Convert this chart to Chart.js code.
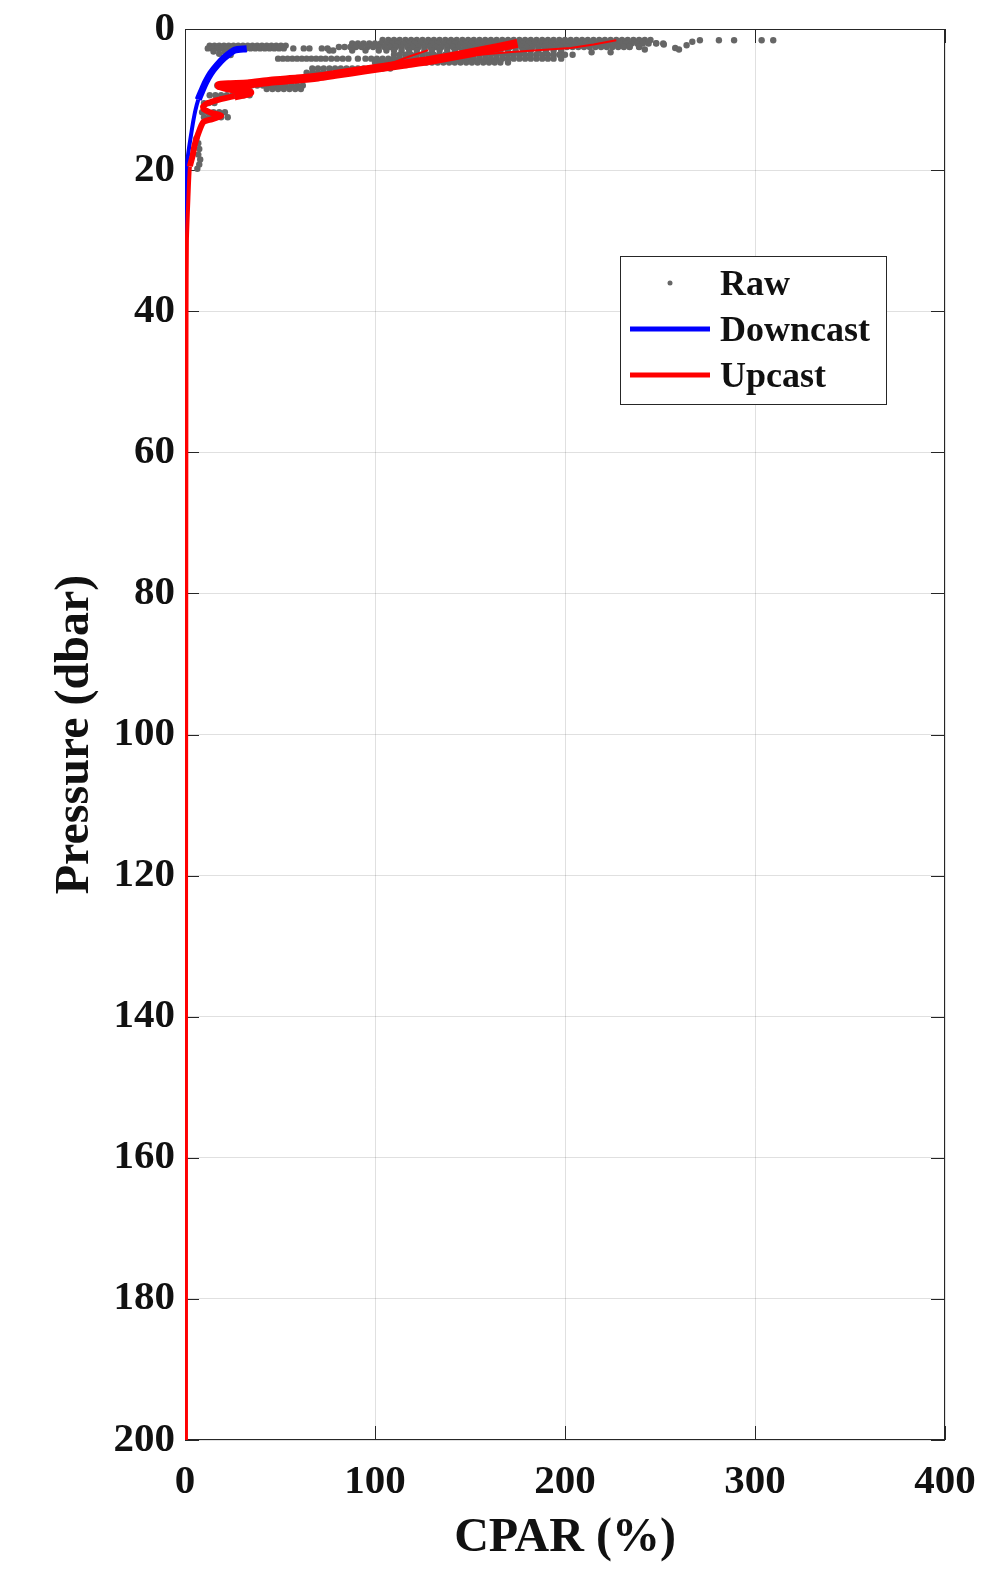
<!DOCTYPE html>
<html>
<head>
<meta charset="utf-8">
<script src="https://cdn.jsdelivr.net/npm/chart.js@4.4.0/dist/chart.umd.min.js"></script>
<style>
  html, body { margin: 0; padding: 0; background: #fff; }
</style>
</head>
<body>
<canvas id="cparChart" width="983" height="1579"></canvas>
<script>
// axis ticks
var xTicks = [0, 100, 200, 300, 400];
var yTicks = [0, 20, 40, 60, 80, 100, 120, 140, 160, 180, 200];

// downcast profile (CPAR %, pressure dbar)
var downCpar = [32.5, 26, 21, 17, 13.5, 11, 9, 7, 5.5, 4.4, 3.3, 2.2, 1.2, 0.8, 0.6, 0.45, 0.35, 0.3, 0.2, 0.15, 0.1];
var downPres = [2.8, 3.0, 4.0, 5.1, 6.3, 7.5, 8.7, 10, 11.5, 13, 14.8, 16.7, 18.7, 20.5, 23, 27, 35, 50, 100, 150, 200];

// upcast profile, from the bottom up to the surface
var upCpar = [0.5, 0.5, 0.6, 0.7, 0.8, 1.0, 1.8, 2.6, 4, 5, 7, 9.6, 14, 19, 14, 10, 9.5, 12, 18, 26, 34, 30, 22, 18, 24, 33, 45, 59, 70, 80, 95, 115, 130, 150, 165, 175];
var upPres = [200, 150, 100, 60, 40, 30, 24, 19.5, 18, 16.5, 14.8, 13.2, 12.8, 12.3, 11.9, 11.4, 11.0, 10.5, 10.0, 9.5, 9.0, 8.7, 8.3, 8.0, 7.9, 7.8, 7.4, 7.1, 6.8, 6.4, 5.8, 5.0, 4.4, 3.4, 2.6, 2.05];
// thin upcast strands near the surface
var upTailACpar = [108, 118, 128];
var upTailAPres = [4.9, 3.9, 3.0];
var upTailBCpar = [140, 170, 203, 215, 227];
var upTailBPres = [4.0, 3.3, 2.7, 2.2, 1.6];

// raw samples, grouped in rows of equal pressure
var rawRowA = [13, 15.5, 18, 20.5, 23, 25.5, 28, 30.5, 33, 35.5, 38, 40.5, 43, 45.5, 48, 50.5, 53];
var rawRowB = [12, 14.5, 17, 19.5, 22, 24.5, 27, 29.5, 32, 34.5, 37, 39.5, 42, 44.5, 47, 49.5, 52, 57, 62.5, 65.5, 72, 75];
var rawRowC = [104, 107, 110, 113, 116, 119, 122, 125, 128, 131, 134, 137, 140, 143, 146, 149, 152, 155, 158, 161, 164, 167, 170, 173, 176, 179, 182, 185, 188, 191, 194, 197, 200, 203, 206, 209, 212, 215, 218, 221, 224, 227, 230, 233, 236, 239, 242, 245];
var rawRowD = [88, 91, 94, 97, 100, 103, 106, 109, 112, 115, 118, 121, 124, 127, 130, 133, 136, 139, 142, 145, 148, 151, 154, 157, 160, 163, 166, 169, 172, 175, 178, 181, 184, 187, 190, 193, 196, 199, 202, 205, 208, 211, 214, 217, 220, 223, 226, 229, 232, 235, 238, 241, 244, 248, 251.7];
var rawRowE = [81, 84, 87, 90, 93, 96, 99, 102, 105, 108, 111, 114, 117, 120, 123, 126, 129, 132, 135, 138, 141, 144, 147, 150, 153, 156, 159, 162, 165, 168, 171, 174, 177, 180, 183, 186, 189, 192, 195, 198, 201, 204, 207, 210, 213, 216, 219, 222, 225, 228, 231, 234, 239];
var rawRowF = [76, 78, 88, 95, 102, 106, 110, 114, 118, 122, 126, 130, 134, 138, 142, 146, 150, 154, 158, 162, 166, 170, 174, 178, 182, 186, 190, 194, 198];
var rawRowG = [110, 113, 116, 119, 122, 125, 128, 131, 134, 137, 140, 143, 146, 149, 152, 155, 158, 161, 164, 167, 170, 173, 176, 179, 182, 185, 188, 191, 194, 197, 200, 204];
var rawRowH = [49, 51.5, 54, 56.5, 59, 61.5, 64, 66.5, 69, 71.5, 74, 77, 80, 83, 86, 91, 95, 98, 101, 104, 107, 110, 113, 116, 119, 122, 125, 128, 131, 134, 137, 140, 143, 146, 149, 152, 155, 158, 161, 164, 167, 170, 173, 176, 179, 182, 185, 188, 191, 194, 198];
var rawRowI = [100, 103, 106, 109, 112, 115, 118, 121, 124, 127, 130, 133, 136, 139, 142, 145, 148, 151, 154, 157, 160, 163, 166, 170];
var rawRowJ = [67, 70, 73, 76, 79, 82, 85, 88, 91, 94, 97, 100, 104, 108];
var rawRowK = [64, 67, 70, 73, 76, 79, 82, 85, 88];
var rawRowL = [17, 20, 23, 26, 29, 32, 35, 38, 41, 44, 47, 50, 53, 56, 59, 62];
var rawRowM = [43, 46, 49, 52, 55, 58, 61];
var rawRowN = [13, 16, 19, 22, 25, 28, 31, 34];
var rawRowO = [10, 12.5, 15.5];
var rawRowP = [9, 12, 15, 18, 21];
var rawRowQ = [10, 13, 16, 19, 22.5];
var rawRowPres = [2.35, 2.75, 1.55, 2.05, 2.55, 3.05, 3.65, 4.2, 4.75, 5.6, 6.2, 8.0, 8.5, 9.4, 10.5, 11.8, 12.5];
var rawRows = [rawRowA, rawRowB, rawRowC, rawRowD, rawRowE, rawRowF, rawRowG, rawRowH, rawRowI, rawRowJ, rawRowK, rawRowL, rawRowM, rawRowN, rawRowO, rawRowP, rawRowQ];

// scattered raw samples
var rawLooseCpar = [15, 18, 21, 24, 214, 224, 234, 239, 242, 248, 252, 258, 260, 264, 267, 271, 281, 289, 303.5, 309.6, 7, 7.5, 7, 8, 7.5, 6.5, 6];
var rawLoosePres = [3.2, 3.5, 3.3, 3.7, 3.3, 3.3, 2.5, 2.5, 2.9, 2.0, 2.2, 2.7, 2.9, 2.3, 1.8, 1.6, 1.6, 1.6, 1.6, 1.6, 16.2, 17.0, 17.8, 18.5, 19.2, 19.8, 15.5];

function pairs(xs, ys) {
    return xs.map(function (v, i) { return { x: v, y: ys[i] }; });
}

var rawPoints = [];
rawRows.forEach(function (row, r) {
    row.forEach(function (v) { rawPoints.push({ x: v, y: rawRowPres[r] }); });
});
rawPoints = rawPoints.concat(pairs(rawLooseCpar, rawLoosePres));

var tickFont = { family: "'Liberation Serif', 'Times New Roman', serif", size: 41, weight: 'bold' };
var titleFont = { family: "'Liberation Serif', 'Times New Roman', serif", size: 48, weight: 'bold' };
var gridColor = 'rgba(0, 0, 0, 0.12)';

// box and inward tick marks, like the original axes
var frameTicks = {
    id: 'frameTicks',
    beforeDatasetsDraw: function (chart) {
        var ctx = chart.ctx, a = chart.chartArea, x = chart.scales.x, y = chart.scales.y;
        ctx.save();
        ctx.strokeStyle = '#262626';
        ctx.lineWidth = 1;
        ctx.strokeRect(a.left + 0.5, a.top + 0.5, a.width - 1, a.height - 1);
        ctx.beginPath();
        xTicks.forEach(function (t) {
            var px = Math.round(x.getPixelForValue(t)) + 0.5;
            ctx.moveTo(px, a.bottom); ctx.lineTo(px, a.bottom - 14);
            ctx.moveTo(px, a.top); ctx.lineTo(px, a.top + 14);
        });
        yTicks.forEach(function (t) {
            var py = Math.round(y.getPixelForValue(t)) + 0.5;
            ctx.moveTo(a.left, py); ctx.lineTo(a.left + 14, py);
            ctx.moveTo(a.right, py); ctx.lineTo(a.right - 14, py);
        });
        ctx.stroke();
        ctx.restore();
    }
};

// legend box inside the axes
var boxLegend = {
    id: 'boxLegend',
    afterDraw: function (chart) {
        var ctx = chart.ctx;
        var left = 620, top = 256, w = 266, h = 148;
        ctx.save();
        ctx.fillStyle = '#ffffff';
        ctx.fillRect(left, top, w, h);
        ctx.strokeStyle = '#262626';
        ctx.lineWidth = 1;
        ctx.strokeRect(left + 0.5, top + 0.5, w, h);
        var rows = [
            { label: 'Raw', kind: 'dot', color: '#666666', cy: 283 },
            { label: 'Downcast', kind: 'line', color: '#0000ff', cy: 329 },
            { label: 'Upcast', kind: 'line', color: '#ff0000', cy: 375 }
        ];
        rows.forEach(function (r) {
            if (r.kind === 'dot') {
                ctx.fillStyle = r.color;
                ctx.beginPath();
                ctx.arc(670, r.cy, 2.5, 0, Math.PI * 2);
                ctx.fill();
            } else {
                ctx.strokeStyle = r.color;
                ctx.lineWidth = 5;
                ctx.beginPath();
                ctx.moveTo(630, r.cy);
                ctx.lineTo(710, r.cy);
                ctx.stroke();
            }
            ctx.fillStyle = '#111111';
            ctx.font = "bold 36px 'Liberation Serif', 'Times New Roman', serif";
            ctx.textBaseline = 'alphabetic';
            ctx.textAlign = 'left';
            ctx.fillText(r.label, 720, r.cy + 12);
        });
        ctx.restore();
    }
};

var ctx = document.getElementById('cparChart').getContext('2d');

var cparChart = new Chart(ctx, {
    type: 'scatter',
    data: {
        datasets: [{
            label: 'Raw',
            data: rawPoints,
            backgroundColor: '#666666',
            borderWidth: 0,
            pointRadius: 3.2,
            order: 3
        }, {
            label: 'Downcast',
            data: pairs(downCpar, downPres),
            showLine: true,
            borderColor: '#0000ff',
            pointRadius: 0,
            tension: 0.25,
            segment: {
                borderWidth: function (c) { return c.p0.parsed.y < 9 ? 7 : 4; }
            },
            order: 2
        }, {
            label: 'Upcast',
            data: pairs(upCpar, upPres),
            showLine: true,
            borderColor: '#ff0000',
            pointRadius: 0,
            tension: 0.2,
            segment: {
                borderWidth: function (c) { return c.p0.parsed.y < 10 ? 9 : (c.p0.parsed.y < 20 ? 6 : 4); }
            },
            order: 1
        }, {
            label: 'Upcast tail A',
            data: pairs(upTailACpar, upTailAPres),
            showLine: true,
            borderColor: '#ff0000',
            borderWidth: 2,
            pointRadius: 0,
            order: 1
        }, {
            label: 'Upcast tail B',
            data: pairs(upTailBCpar, upTailBPres),
            showLine: true,
            borderColor: '#ff0000',
            borderWidth: 2,
            pointRadius: 0,
            order: 1
        }]
    },
    options: {
        responsive: false,
        animation: false,
        devicePixelRatio: 1,
        layout: { padding: { left: 0, top: 29, right: 38, bottom: 0 } },
        plugins: {
            legend: { display: false },
            tooltip: { enabled: false }
        },
        scales: {
            x: {
                type: 'linear',
                position: 'bottom',
                min: 0,
                max: 400,
                afterBuildTicks: function (s) { s.ticks = xTicks.map(function (v) { return { value: v }; }); },
                ticks: { color: '#111111', font: tickFont, padding: 4, maxRotation: 0 },
                grid: { color: gridColor, drawTicks: true, tickLength: 14, tickColor: 'rgba(0,0,0,0)' },
                border: { display: false },
                title: { display: true, text: 'CPAR (%)', color: '#111111', font: titleFont, padding: { top: 0, bottom: 12 } },
                afterFit: function (s) { s.height = 139; }
            },
            y: {
                type: 'linear',
                reverse: true,
                min: 0,
                max: 200,
                afterBuildTicks: function (s) { s.ticks = yTicks.map(function (v) { return { value: v }; }); },
                ticks: { color: '#111111', font: tickFont, padding: 3 },
                grid: { color: gridColor, drawTicks: true, tickLength: 7, tickColor: 'rgba(0,0,0,0)' },
                border: { display: false },
                title: { display: true, text: 'Pressure (dbar)', color: '#111111', font: titleFont, padding: { top: 47, bottom: 0 } },
                afterFit: function (s) { s.width = 185; }
            }
        }
    },
    plugins: [frameTicks, boxLegend]
});
</script>
</body>
</html>
